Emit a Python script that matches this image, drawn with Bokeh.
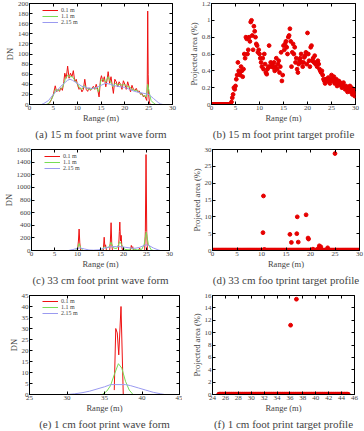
import numpy as np
from bokeh.plotting import figure
from bokeh.models import Range1d, FixedTicker, LinearAxis, Title, Legend, LegendItem
from bokeh.layouts import column, row
from bokeh.embed import file_html
from bokeh.resources import INLINE

SERIF = "Liberation Serif"
RED = "#ee1111"
GREEN = "#77dd55"
BLUE = "#9a9af0"
DOT = "#e60000"

# ---------------- (a) 15 m footprint waveform ----------------
a_red_x = [3.8, 4.2, 4.6, 5.0, 5.4, 5.7, 6.0, 6.3, 6.6, 6.9, 7.2, 7.4, 7.7, 8.0, 8.3, 8.6, 8.9, 9.2, 9.5,
           9.8, 10.1, 10.4, 10.7, 11.0, 11.3, 11.6, 11.9, 12.2, 12.5, 12.8, 13.1, 13.4, 13.7, 14.0, 14.3,
           14.6, 14.9, 15.1, 15.4, 15.7, 16.0, 16.3, 16.5, 16.8, 17.1, 17.4, 17.6, 17.9, 18.2, 18.5, 18.8,
           19.1, 19.4, 19.7, 20.0, 20.3, 20.6, 20.9, 21.2, 21.5, 21.8, 22.1, 22.4, 22.7, 23.0, 23.3, 23.6,
           23.9, 24.2, 24.4, 24.6, 24.7, 24.8, 24.9, 25.0, 25.15, 25.3]
a_red_y = [0, 3, 10, 20, 37, 25, 30, 26, 33, 28, 45, 62, 52, 76, 52, 62, 55, 67, 45,
           50, 38, 30, 33, 25, 30, 50, 30, 26, 33, 28, 32, 36, 30, 40, 30,
           15, 50, 57, 45, 55, 35, 50, 65, 42, 55, 35, 22, 50, 45, 35, 45,
           40, 30, 47, 40, 30, 45, 35, 25, 38, 30, 28, 32, 25, 27, 20, 22,
           15, 18, 12, 8, 40, 185, 60, 20, 5, 0]
a_green_x = [3.5, 4.0, 4.5, 5.0, 5.5, 6.0, 6.5, 7.0, 7.5, 8.0, 8.5, 9.0, 9.5, 10.0, 10.5, 11.0, 11.5, 12.0,
             12.5, 13.0, 13.5, 14.0, 14.5, 15.0, 15.5, 16.0, 16.5, 17.0, 17.5, 18.0, 18.5, 19.0, 19.5,
             20.0, 20.5, 21.0, 21.5, 22.0, 22.5, 23.0, 23.5, 24.0, 24.5, 24.8, 25.1, 25.5, 26.0, 26.5]
a_green_y = [0, 2, 8, 18, 30, 27, 30, 35, 50, 58, 55, 55, 48, 42, 33, 30, 38, 32,
             30, 30, 33, 33, 25, 48, 50, 45, 55, 45, 35, 42, 38, 40, 38,
             40, 35, 35, 30, 28, 28, 24, 20, 17, 15, 40, 25, 8, 3, 0]
a_blue_x = [2.5, 3.0, 4.0, 5.0, 6.0, 7.0, 8.0, 8.5, 9.0, 10.0, 11.0, 12.0, 13.0, 14.0, 15.0, 16.0, 17.0,
            18.0, 19.0, 20.0, 21.0, 22.0, 23.0, 24.0, 25.0, 26.0, 27.0, 27.5, 28.0]
a_blue_y = [0, 2, 8, 20, 30, 40, 48, 50, 48, 42, 36, 33, 32, 33, 38, 42, 40,
            37, 35, 34, 30, 26, 24, 22, 20, 12, 4, 1, 0]

# ---------------- (b) 15 m footprint target profile ----------------
b_zero_x = [0, 0.125, 0.25, 0.375, 0.5, 0.625, 0.75, 0.875, 1.0, 1.125, 1.25, 1.375, 1.5, 1.625, 1.75,
            1.875, 2.0, 2.125, 2.25, 2.375, 2.5, 2.625, 2.75, 2.875, 3.0, 3.125, 3.25, 3.375, 3.5,
            3.625, 3.75, 3.875]
b_start, b_step = 4.0, 1 / 6
b_y = [0.0, 0.03, 0.08, 0.12, 0.2, 0.18,
       0.22, 0.3, 0.35, 0.5, 0.4, 0.38,
       0.35, 0.45, 0.4, 0.33, 0.42, 0.6,
       0.55, 0.8, 0.78, 0.6, 0.65, 0.8,
       0.75, 0.98, 1.0, 0.82, 0.65, 0.93,
       0.87, 0.8, 0.72, 0.7, 0.62, 0.65,
       0.6, 0.55, 0.5, 0.45, 0.55, 0.42,
       0.6, 0.48, 0.38, 0.36, 0.42, 0.45,
       0.7, 0.45, 0.5, 0.46, 0.48, 0.44,
       0.5, 0.4, 0.45, 0.55, 0.42, 0.48,
       0.52, 0.38, 0.45, 0.62, 0.28, 0.35,
       0.7, 0.65, 0.72, 0.75, 0.68, 0.6,
       0.8, 0.82, 0.9, 0.75, 0.45, 0.62,
       0.72, 0.6, 0.68, 0.5, 0.55, 0.42,
       0.38, 0.48, 0.52, 0.55, 0.6, 0.5,
       0.45, 0.5, 0.56, 0.58, 0.62, 0.48,
       0.85, 0.6, 0.52, 0.45, 0.68, 0.7,
       0.52, 0.55, 0.5, 0.58, 0.48, 0.5,
       0.45, 0.52, 0.48, 0.42, 0.4, 0.38,
       0.4, 0.35, 0.3, 0.28, 0.25, 0.3,
       0.3, 0.28, 0.32, 0.27, 0.25, 0.3,
       0.35, 0.3, 0.28, 0.33, 0.25, 0.27,
       0.3, 0.22, 0.25, 0.28, 0.27, 0.23,
       0.25, 0.2, 0.22, 0.26, 0.21, 0.18,
       0.22, 0.2, 0.15, 0.2, 0.18, 0.22,
       0.15, 0.2, 0.12, 0.18, 0.14, 0.1]

# ---------------- (c) 33 cm footprint waveform ----------------
c_red_x = [10.0, 10.2, 10.35, 10.5, 10.7, 15.6, 15.8, 15.95, 16.1, 16.3, 17.0, 17.15, 17.3, 17.45, 17.6,
           18.9, 19.1, 19.2, 19.35, 19.5, 19.65, 19.8, 21.5, 21.7, 21.85, 22.0, 22.2, 23.3, 23.5, 23.7,
           24.6, 24.75, 24.9, 25.05, 25.2]
c_red_y = [0, 150, 340, 120, 0, 0, 210, 60, 90, 0, 0, 150, 440, 100, 0,
           0, 300, 450, 150, 240, 50, 0, 0, 80, 40, 60, 0, 0, 40, 0,
           0, 300, 1520, 300, 0]
c_green_x = [9.5, 10.0, 10.35, 10.7, 11.2, 15.2, 15.8, 16.2, 16.8, 17.3, 17.8, 18.5, 19.2, 19.6, 20.2,
             21.0, 21.7, 22.2, 23.0, 23.5, 24.0, 24.5, 24.95, 25.4, 26.0, 26.5]
c_green_y = [0, 40, 110, 40, 0, 0, 60, 40, 50, 130, 40, 30, 140, 90, 20,
             10, 30, 20, 10, 15, 20, 100, 290, 100, 10, 0]
c_blue_x = [8.0, 9.0, 10.0, 10.5, 11.5, 12.5, 13.5, 14.5, 15.5, 16.5, 17.5, 18.5, 19.5, 20.5, 21.5,
            22.5, 23.5, 24.5, 25.0, 25.5, 26.5, 27.5, 28.0]
c_blue_y = [0, 15, 35, 40, 25, 8, 5, 10, 30, 50, 60, 62, 60, 50, 40,
            35, 50, 80, 90, 80, 40, 10, 0]

# ---------------- (d) 33 cm footprint target profile ----------------
d_zero_x = np.round(np.arange(0, 30.01, 0.1), 2)
d_x = [10.3, 10.4, 10.6, 15.8, 16.1, 17.2, 17.3, 17.5, 19.1, 19.5, 19.6, 20.5, 21.5, 21.8, 22.1, 23.5, 25.0]
d_y = [5.3, 16.2, 0.3, 4.8, 2.4, 5.0, 10.0, 2.5, 10.6, 3.7, 3.4, 0.4, 0.5, 1.4, 1.1, 0.8, 28.8]

# ---------------- (e) 1 cm footprint waveform ----------------
e_red_x = [36.3, 36.5, 36.7, 36.9, 37.2, 37.5]
e_red_y = [2, 30, 28, 18, 40, 0]
e_green_x = [34.7, 35.3, 35.8, 36.3, 36.85, 37.3, 37.8, 38.3, 38.8]
e_green_y = [0, 1.5, 4, 9, 14, 12, 6, 2, 0]
e_blue_x = [30, 31, 32, 33, 34, 35, 35.8, 37.8, 38.5, 39.5, 40.5, 41.5, 42.5, 43]
e_blue_y = [0, 0.3, 0.8, 1.5, 2.5, 3.5, 4.5, 4.5, 4, 3, 2, 1, 0.3, 0]

# ---------------- (f) 1 cm footprint target profile ----------------
f_zero_x = np.round(np.arange(25, 45.01, 0.1), 2)
f_x = [36.1, 37.0]
f_y = [11.2, 15.4]

legend_labels = ["0.1 m", "1.1 m", "2.15 m"]


def style_axis(ax):
    ax.axis_line_color = "black"
    ax.major_tick_in = 3
    ax.major_tick_out = 0
    ax.minor_tick_line_color = None
    ax.major_tick_line_color = "black"
    ax.major_label_text_font = SERIF
    ax.major_label_text_font_size = "7px"
    ax.major_label_standoff = 1
    ax.axis_label_text_font = SERIF
    ax.axis_label_text_font_size = "8.5px"
    ax.axis_label_text_font_style = "normal"
    ax.axis_label_standoff = 0


def mirror_axis(ticks):
    return LinearAxis(ticker=FixedTicker(ticks=ticks), major_label_text_font_size="1px",
                      major_label_text_color=None, major_tick_in=3, major_tick_out=0,
                      axis_line_color=None, minor_tick_line_color=None, major_label_standoff=0)


def make_fig(xr, yr, xt, yt, h, left, right, top, bottom, caption, ylabel, yover=None):
    p = figure(width=182, height=h, x_range=Range1d(*xr), y_range=Range1d(*yr),
               output_backend="svg", toolbar_location=None,
               min_border_left=left, min_border_right=right,
               min_border_top=top, min_border_bottom=bottom)
    p.xgrid.visible = False
    p.ygrid.visible = False
    p.outline_line_color = "black"
    p.outline_line_alpha = 1
    p.xaxis.ticker = FixedTicker(ticks=xt)
    p.yaxis.ticker = FixedTicker(ticks=yt)
    p.xaxis.axis_label = "Range (m)"
    p.yaxis.axis_label = ylabel
    for ax in list(p.xaxis) + list(p.yaxis):
        style_axis(ax)
    if yover:
        p.yaxis.major_label_overrides = yover
    p.add_layout(mirror_axis(xt), "above")
    p.add_layout(mirror_axis(yt), "right")
    p.add_layout(Title(text=caption, align="center", text_font=SERIF, text_font_size="11px",
                       text_font_style="normal", standoff=0), "below")
    return p


def add_waves(p, xs, ys, fh):
    rs = []
    for (x, y), c in zip(zip(xs, ys), [RED, GREEN, BLUE]):
        rs.append(p.line(x, y, line_color=c, line_width=1))
    items = [LegendItem(label=l, renderers=[r]) for l, r in zip(legend_labels, rs)]
    leg = Legend(items=items, location=(13, fh - 22), label_text_font=SERIF, label_text_font_size="6px",
                 glyph_width=16, glyph_height=6, label_height=6, spacing=0, padding=1, margin=0,
                 border_line_color=None, background_fill_alpha=0, label_standoff=3)
    p.add_layout(leg)


# (a)
pa = make_fig((0, 30), (0, 200), list(range(0, 31, 5)), list(range(0, 201, 20)),
              144, 29, 10, 3, 40, "(a) 15 m foot print wave form", "DN")
add_waves(pa, [a_red_x, a_green_x, a_blue_x], [a_red_y, a_green_y, a_blue_y], 101)

# (b)
pb = make_fig((0, 30), (0, 1.2), list(range(0, 31, 5)), [0, 0.2, 0.4, 0.6, 0.8, 1, 1.2],
              144, 29, 9, 3, 40, "(b) 15 m foot print target profile", "Projected area (%)",
              yover={0: "0", 1: "1"})
b_x = [b_start + i * b_step for i in range(len(b_y))]
pb.scatter(b_zero_x, [0] * len(b_zero_x), size=3.8, color=DOT)
pb.scatter(b_x, b_y, size=3.8, color=DOT)

# (c)
pc = make_fig((0, 30), (0, 1600), list(range(0, 31, 5)), list(range(0, 1601, 200)),
              145, 29, 13, 5, 39, "(c) 33 cm foot print wave form", "DN")
add_waves(pc, [c_red_x, c_green_x, c_blue_x], [c_red_y, c_green_y, c_blue_y], 101)

# (d)
pd_ = make_fig((0, 30), (0, 30), list(range(0, 31, 5)), list(range(0, 31, 5)),
               145, 30, 5, 5, 39, "(d) 33 cm foo tprint target profile", "Projected area (%)")
pd_.scatter(d_zero_x, [0] * len(d_zero_x), size=4.4, color=DOT)
pd_.scatter(d_x, d_y, size=3.8, color=DOT)

# (e)
pe = make_fig((25, 45), (0, 45), list(range(25, 46, 5)), list(range(0, 46, 5)),
              142, 29, 3, 5, 37, "(e) 1 cm foot print wave form", "DN")
add_waves(pe, [e_red_x, e_green_x, e_blue_x], [e_red_y, e_green_y, e_blue_y], 100)

# (f)
pf = make_fig((24, 46), (0, 16), list(range(24, 47, 2)), list(range(0, 17, 2)),
              142, 30, 10, 6, 37, "(f) 1 cm foot print target profile", "Projected area (%)")
pf.scatter(f_zero_x, [0] * len(f_zero_x), size=4.4, color=DOT)
pf.scatter(f_x, f_y, size=3.8, color=DOT)

layout = column(row(pa, pb), row(pc, pd_), row(pe, pf))
open("out.html", "w").write(file_html(layout, INLINE))
